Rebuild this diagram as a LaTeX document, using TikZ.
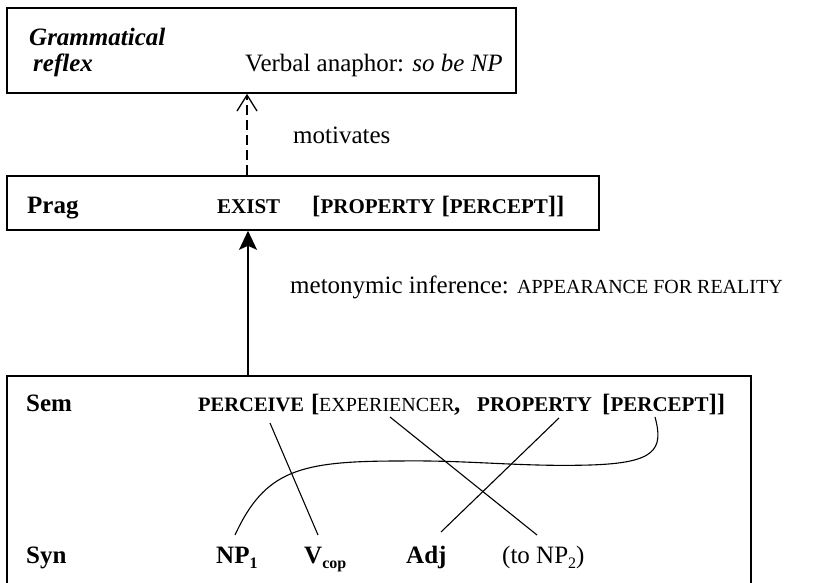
\documentclass[tikz,border=0pt]{standalone}
\usepackage{fontspec}
\setmainfont{Liberation Serif}
\usetikzlibrary{arrows.meta,calc}
\newcommand\smc[1]{{\fontsize{20}{22}\selectfont #1}}
\newcommand\smcb[1]{{\fontsize{21}{22}\selectfont\bfseries #1}}
\newcommand\subsc[1]{\raisebox{-5pt}{\fontsize{16}{16}\selectfont #1}}
\begin{document}
\begin{tikzpicture}[x=1pt,y=-1pt,
  txt/.style={anchor=base west, inner sep=0pt, font=\fontsize{25}{27}\selectfont},
  btxt/.style={txt, font=\fontsize{25}{27}\selectfont\bfseries},
  bitxt/.style={txt, font=\fontsize{25}{27}\selectfont\bfseries\itshape},
  frame/.style={draw, line width=1.6pt, inner sep=0pt},
  link/.style={line width=1.1pt},
  motivarrow/.style={line width=1.3pt, dash pattern=on 10pt off 5pt,
    -{Straight Barb[length=16pt,width=20pt,line width=1.3pt]}},
  inferarrow/.style={line width=1.3pt, -{Stealth[length=19pt,width=18pt,inset=4pt]}}]
\useasboundingbox (0,0) rectangle (814,583);

% top box
\node[frame, minimum width=509pt, minimum height=85pt] (refl) at (261.5,50.5) {};
\node[bitxt] (gram) at (29,46) {Grammatical};
\node[bitxt] (reflex) at (33,72) {reflex};
\node[txt] (verbal) at (245,72) {Verbal anaphor: \textit{so be NP}};

% Prag box
\node[frame, minimum width=592pt, minimum height=54pt] (prag) at (303,203) {};
\node[btxt] (praglbl) at (27,213) {Prag};
\node[btxt] (exist) at (217,213) {\smcb{EXIST}};
\node[btxt] (propp) at (312,213) {[\smcb{PROPERTY} [\smcb{PERCEPT}]]};

% arrows between boxes
\coordinate (ax) at (247,0);
\coordinate (bx) at (248,0);
\draw[motivarrow] (ax |- prag.north) -- (ax |- refl.south);
\node[txt] (motiv) at (293,144) {motivates};

% Sem / Syn box
\node[inner sep=0pt, minimum width=744pt, minimum height=207pt] (sem) at (379,479.5) {};
\draw[line width=1.6pt] (sem.south west) -- (sem.north west) -- (sem.north east) -- (sem.south east);
\draw[inferarrow] (bx |- sem.north) -- (bx |- prag.south);
\node[txt] (meto) at (290,293) {metonymic inference: \smc{APPEARANCE FOR REALITY}};

% Sem row
\node[btxt] (semlbl) at (26,411) {Sem};
\node[btxt] (perceive) at (198,411) {{\fontsize{20.5}{22}\selectfont\bfseries PERCEIVE}};
\node[btxt] (brk) at (311,411) {[};
\node[txt] (exper) at (319,411) {\smc{EXPERIENCER}};
\node[btxt] (comma) at (454,411) {,};
\node[btxt] (propty) at (477,411) {\smcb{PROPERTY}};
\node[btxt] (percept) at (602,411) {[\smcb{PERCEPT}]]};

% Syn row
\node[btxt] (synlbl) at (26,563) {Syn};
\node[btxt] (np) at (216,563) {NP\subsc{1}};
\node[btxt] (vcop) at (304,563) {V\subsc{cop}};
\node[btxt] (adj) at (406,563) {Adj};
\node[txt] (tonp) at (502,563) {(to NP\subsc{2})};

% links
\draw[link] ($(perceive.base west)+(72,12)$) -- ($(vcop.base west)+(14,-28)$);
\draw[link] ($(exper.base west)+(71,6)$) -- ($(tonp.base west)+(35,-28)$);
\draw[link] ($(propty.base west)+(82,7)$) -- ($(adj.base west)+(35,-31)$);
\draw[link] ($(percept.base west)+(53,6)$)
  .. controls (664,450) and (655,463) .. (590,465)
  .. controls (520,467) and (470,460) .. (400,461)
  .. controls (300,461) and (265,470) .. ($(np.base west)+(19,-28)$);
\end{tikzpicture}
\end{document}
